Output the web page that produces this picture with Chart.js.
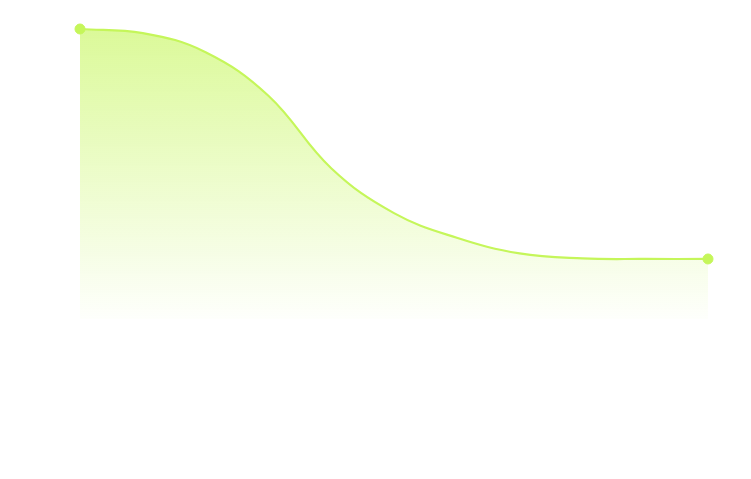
<!DOCTYPE html>
<html>
<head>
<meta charset="utf-8">
<script src="https://cdn.jsdelivr.net/npm/chart.js@4/dist/chart.umd.min.js"></script>
<style>
  html, body { margin: 0; padding: 0; background: #ffffff; }
  #wrap { width: 751px; height: 479px; position: relative; }
</style>
</head>
<body>
<div id="wrap"><canvas id="areaChart"></canvas></div>
<script>
// values (axes are hidden, scale 0..100)
const labels = ["1", "2", "3", "4", "5", "6", "7", "8", "9", "10", "11"];
const values = [100, 98.6, 92, 77, 52, 36.5, 28, 22.6, 20.9, 20.7, 20.7];

const lime = "rgb(197, 246, 90)";

const ctx = document.getElementById("areaChart");
new Chart(ctx, {
    type: "line",
    data: {
        labels: labels,
        datasets: [{
            data: values,
            borderColor: lime,
            borderWidth: 2.2,
            tension: 0.4,
            fill: "start",
            clip: false,
            backgroundColor: (context) => {
                const area = context.chart.chartArea;
                if (!area) return "rgba(197,246,90,0.3)";
                const g = context.chart.ctx.createLinearGradient(0, area.top, 0, area.bottom);
                g.addColorStop(0, "rgba(197,246,90,0.62)");
                g.addColorStop(1, "rgba(197,246,90,0.02)");
                return g;
            },
            // only the two end points are shown
            pointRadius: values.map((v, i) => (i === 0 || i === values.length - 1) ? 5 : 0),
            pointBackgroundColor: lime,
            pointBorderColor: lime,
            pointBorderWidth: 1,
        }],
    },
    options: {
        responsive: true,
        maintainAspectRatio: false,
        animation: false,
        layout: {
            padding: { left: 80, right: 43, top: 29, bottom: 160 },
        },
        plugins: {
            legend: { display: false },
            tooltip: { enabled: false },
        },
        scales: {
            x: { display: false },
            y: { display: false, min: 0, max: 100 },
        },
    },
});
</script>
</body>
</html>
